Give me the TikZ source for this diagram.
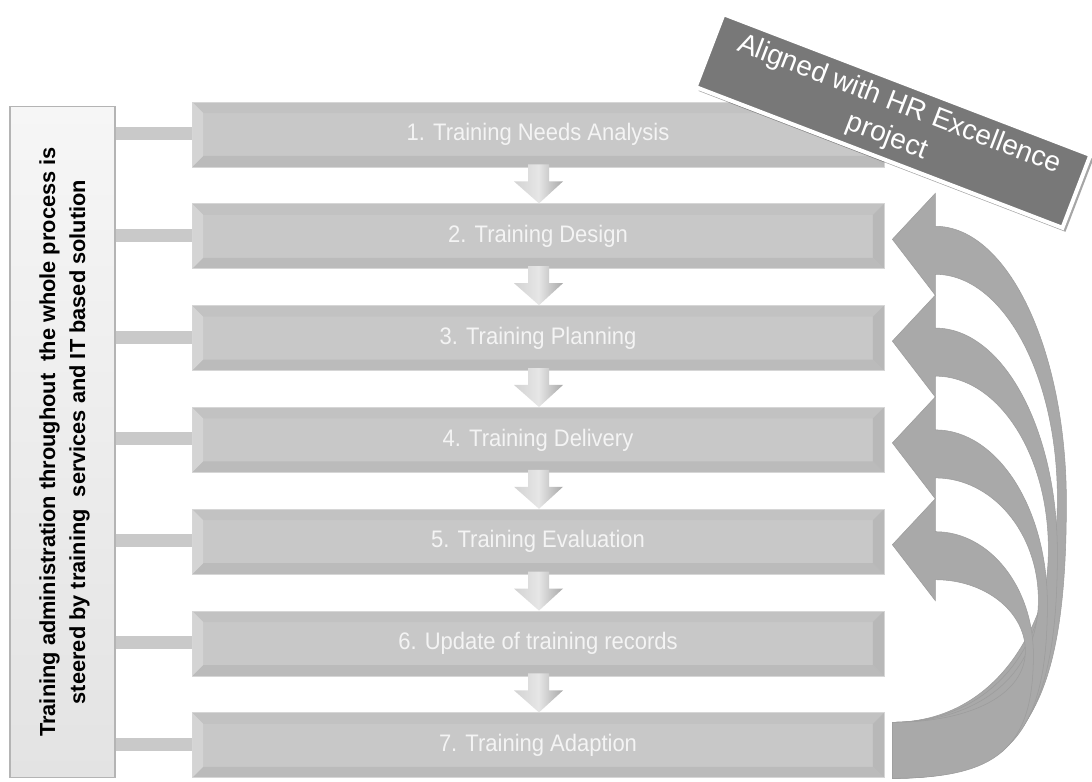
\documentclass[tikz,border=0pt]{standalone}
\usepackage{fontspec}
\setmainfont{Liberation Sans}
\newfontfamily\barfont[FakeStretch=0.92]{Liberation Sans}
\usetikzlibrary{calc,shadows}

\definecolor{barmid}{HTML}{C8C8C8}
\definecolor{barline}{HTML}{D6D6D6}
\definecolor{bevleft}{HTML}{D4D4D4}
\definecolor{bevtop}{HTML}{C2C2C2}
\definecolor{bevright}{HTML}{B8B8B8}
\definecolor{bevbottom}{HTML}{BBBBBB}
\definecolor{bartext}{HTML}{F4F4F4}
\definecolor{linkgray}{HTML}{C9C9C9}
\definecolor{backfill}{HTML}{A9A9A9}
\definecolor{backedge}{HTML}{9C9C9C}
\definecolor{hrgray}{HTML}{787878}
\definecolor{boxtop}{HTML}{F6F6F6}
\definecolor{boxbottom}{HTML}{E3E3E3}
\definecolor{boxline}{HTML}{B4B4B4}
\definecolor{arrL}{HTML}{D2D2D2}
\definecolor{arrM}{HTML}{E6E6E6}
\definecolor{arrR}{HTML}{A8A8A8}

\tikzset{
  stepbar/.style={
    minimum width=138.4mm, minimum height=13mm, inner sep=0pt,
    fill=barmid, draw=barline, line width=0.5pt,
    text=bartext, font=\barfont\fontsize{13.6}{16}\selectfont,
    path picture={
      \coordinate (bNW) at (path picture bounding box.north west);
      \coordinate (bNE) at (path picture bounding box.north east);
      \coordinate (bSW) at (path picture bounding box.south west);
      \coordinate (bSE) at (path picture bounding box.south east);
      \coordinate (iNW) at ($(bNW)+(2.2mm,-2.2mm)$);
      \coordinate (iNE) at ($(bNE)+(-2.2mm,-2.2mm)$);
      \coordinate (iSW) at ($(bSW)+(2.2mm,2.2mm)$);
      \coordinate (iSE) at ($(bSE)+(-2.2mm,2.2mm)$);
      \fill[bevtop] (bNW) -- (bNE) -- (iNE) -- (iNW) -- cycle;
      \fill[bevbottom] (bSW) -- (iSW) -- (iSE) -- (bSE) -- cycle;
      \fill[bevright] (bNE) -- (bSE) -- (iSE) -- (iNE) -- cycle;
      \fill[bevleft] (bNW) -- (iNW) -- (iSW) -- (bSW) -- cycle;
    }},
  sidebox/.style={
    minimum width=21mm, minimum height=134.4mm, inner sep=0pt,
    top color=boxtop, bottom color=boxbottom, draw=boxline, line width=0.6pt},
  sidetext/.style={
    align=center, text=black, inner sep=0pt,
    font=\bfseries\fontsize{12.4}{17}\selectfont},
  linkbar/.style={draw=linkgray, line width=2.6mm},
  downarr/.style={left color=arrL, right color=arrR, middle color=arrM},
  backarr/.style={fill=backfill, draw=backedge, line width=0.3pt},
  hrbox/.style={
    fill=hrgray, draw=white, line width=0.8mm,
    minimum width=78.6mm, minimum height=15.6mm, inner sep=0pt,
    text=white, align=center, font=\fontsize{16}{19.5}\selectfont,
    drop shadow={shadow xshift=0.6mm, shadow yshift=-0.8mm, opacity=0.35, fill=black}}
}

\begin{document}
\begin{tikzpicture}[x=0.02cm, y=-0.02cm]
  \path[use as bounding box, fill=white] (0,0) rectangle (1092,781);

  % side box with the administration note
  \node[sidebox] (lbox) at (62.5,442) {};
  \node[sidetext, rotate=90] (ltxt) at ($(lbox.center)+(2,0)$)
    {Training administration throughout~ the whole process is\\steered by training~ services and IT based solution};

  % the seven process steps
  \node[stepbar] (b1) at (538,134.5) {1. Training Needs Analysis};
  \node[stepbar] (b2) at (538,236.3) {2. Training Design};
  \node[stepbar] (b3) at (538,338.1) {3. Training Planning};
  \node[stepbar] (b4) at (538,439.9) {4. Training Delivery};
  \node[stepbar] (b5) at (538,541.7) {5. Training Evaluation};
  \node[stepbar] (b6) at (538,643.5) {6. Update of training records};
  \node[stepbar] (b7) at (538,745.3) {7. Training Adaption};

  % links from the side box to each step
  \foreach \i in {1,...,7}
    \draw[linkbar] ($(lbox.east |- b\i)+(0,-1)$) -- ($(b\i.west)+(0,-1)$);

  % block arrows between consecutive steps
  \foreach \i [evaluate=\i as \j using int(\i+1)] in {1,...,6}
    \path[downarr]
      ($(b\i.south)+(-10,-3)$) -- ($(b\j.north)+(-10,-22)$)
      -- ($(b\j.north)+(-24,-22)$) -- ($(b\j.north)+(1,0)$)
      -- ($(b\j.north)+(25,-22)$) -- ($(b\j.north)+(11,-22)$)
      -- ($(b\i.south)+(11,-3)$) -- cycle;

  % curved feedback arrows from step 7 back to steps 2 to 5
  % (offsets in px, measured from each arrow tip; \Ro / \Ri = reach of outer / inner edge)
  \coordinate (tailA) at ($(b7.east)+(8,-23)$);
  \coordinate (tailB) at ($(b7.east)+(8,33)$);
  \foreach \k/\Ro/\Ri in {2/174/165, 3/165/156, 4/155/146, 5/141/133} {
    \coordinate (tip) at ($(b\k.east)+(8,3)$);
    \pgfmathsetmacro{\H}{742.6-101.8*\k}
    % outer edge
    \pgfmathsetmacro{\yM}{(\H-13)/2}
    \pgfmathsetmacro{\cA}{43+0.552*(\Ro-43)}
    \pgfmathsetmacro{\cB}{\yM-0.552*(\yM+13)}
    \pgfmathsetmacro{\cC}{\yM+0.75*(\H-\yM)}
    \pgfmathsetmacro{\cD}{0.75*\Ro}
    % inner edge
    \pgfmathsetmacro{\yN}{(\H-21)/2}
    \pgfmathsetmacro{\dA}{0.6*\Ri}
    \pgfmathsetmacro{\dB}{\yN+0.6*(\H-56-\yN)}
    \pgfmathsetmacro{\dC}{\yN-0.552*(\yN-35)}
    \pgfmathsetmacro{\dD}{43+0.552*(\Ri-43)}
    \path[backarr] (tip) -- ++(43,-46) -- ($(tip)+(43,-13)$)
      .. controls ($(tip)+(\cA,-13)$) and ($(tip)+(\Ro,\cB)$) .. ($(tip)+(\Ro,\yM)$)
      .. controls ($(tip)+(\Ro,\cC)$) and ($(tailB)+(\cD,0)$) .. (tailB)
      -- (tailA)
      .. controls ($(tailA)+(\dA,0)$) and ($(tip)+(\Ri,\dB)$) .. ($(tip)+(\Ri,\yN)$)
      .. controls ($(tip)+(\Ri,\dC)$) and ($(tip)+(\dD,35)$) .. ($(tip)+(43,35)$)
      -- ++(0,21) -- cycle;
  }

  % tilted note
  \node[hrbox, rotate=-21] (hr) at (893,121) {Aligned with HR Excellence\\project};
\end{tikzpicture}
\end{document}
